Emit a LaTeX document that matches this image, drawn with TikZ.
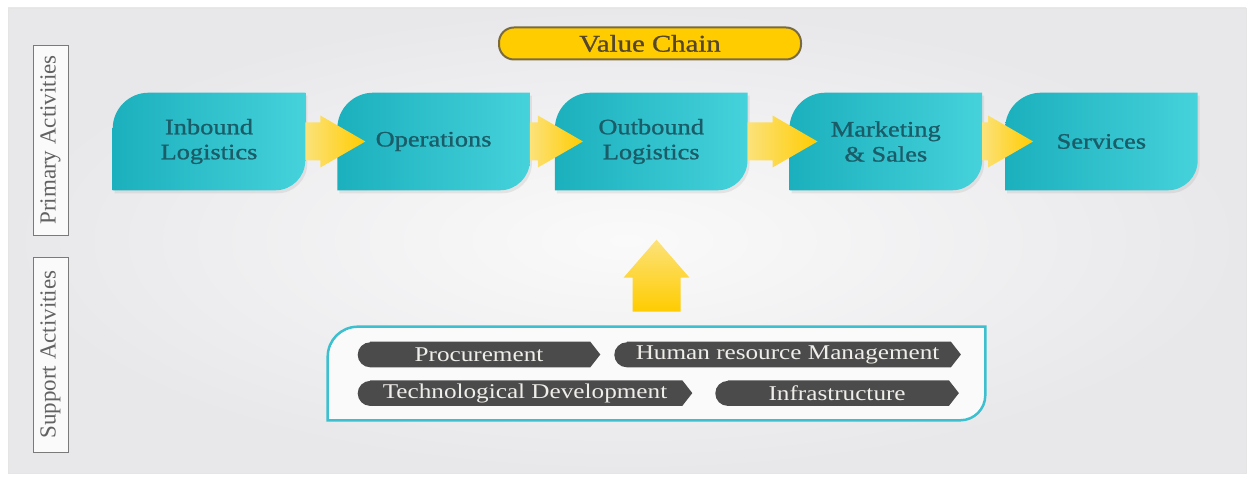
\documentclass[tikz,border=0pt]{standalone}
\usepackage{fontspec}
\setmainfont{Liberation Serif}
\newfontfamily\widefont[FakeStretch=1.2]{Liberation Serif}
\newfontfamily\widebold[FakeStretch=1.2,FakeBold=1]{Liberation Serif}
\usepackage{tikz}
\usetikzlibrary{positioning,shadows,backgrounds}

\definecolor{tealdark}{HTML}{1BB0BD}
\definecolor{teallight}{HTML}{45D2DB}
\definecolor{tealtext}{HTML}{1A5C68}
\definecolor{tealline}{HTML}{3CBFCE}
\definecolor{goldl}{HTML}{FCE27A}
\definecolor{gold}{HTML}{FFCC00}
\definecolor{pillgray}{HTML}{4B4B4B}
\definecolor{pilltext}{HTML}{F0EEEA}
\definecolor{vcline}{HTML}{7A6A40}
\definecolor{vctext}{HTML}{54472E}
\definecolor{sidegray}{HTML}{7A7A7A}
\definecolor{bgout}{HTML}{E8E8EB}
\definecolor{bgin}{HTML}{FAFAFA}

\begin{document}
\begin{tikzpicture}[x=1pt,y=1pt,semithick]
  \tikzstyle{act}=[minimum width=192pt,minimum height=97pt,inner sep=0pt,align=center,
                   text=tealtext,font=\widebold\fontsize{22}{25}\selectfont]
  \tikzstyle{actshape}=[left color=tealdark,right color=teallight,
                        drop shadow={shadow xshift=2pt,shadow yshift=-3pt,opacity=.15}]
  \tikzstyle{pill}=[minimum height=25pt,inner sep=0pt,text=pilltext,
                    font=\widefont\fontsize{21}{21}\selectfont]
  \tikzstyle{side}=[draw=sidegray,thin,rotate=90,minimum height=35pt,inner sep=0pt,
                    fill=bgin,text=sidegray!80!black,font=\fontsize{23}{23}\selectfont]
  \tikzstyle{yarrow}=[left color=goldl,right color=gold]
  \useasboundingbox (0,0) rectangle (1254,481);

  \node[draw=vcline,line width=2pt,rounded corners=15pt,minimum width=302pt,
        minimum height=32pt,left color=gold,middle color=goldl!50!gold,right color=gold,
        text=vctext,font=\widebold\fontsize{24}{24}\selectfont] (vc) at (650,437.5) {Value Chain};

  \node[side,minimum width=190pt] (pri) at (50.5,341)   {Primary Activities};
  \node[side,minimum width=195pt] (spt) at (50.5,126.5) {Support Activities};

  % primary activities
  \node[act] (inb)  at (209,339.5)         {Inbound\\Logistics};
  \node[act] (ops)  [right=32pt of inb]    {Operations};
  \node[act] (outb) [right=25pt of ops]    {Outbound\\Logistics};
  \node[act] (mkt)  [right=42pt of outb]   {Marketing\\\& Sales};
  \node[act] (srv)  [right=23pt of mkt]    {Services};

  % support activities
  \node[minimum width=657pt,minimum height=93pt] (sup) at (656.5,107.5) {};
  \node[pill,minimum width=242pt] (proc) at (479,126.5)  {Procurement};
  \node[pill,minimum width=346pt] (hrm)  [right=14pt of proc] {Human resource Management};
  \node[pill,minimum width=334pt,anchor=north west] (tech) at ([yshift=-13pt]proc.south west)
       {Technological Development};
  \node[pill,minimum width=243pt] (infra) [right=23pt of tech] {Infrastructure};

  \begin{scope}[on background layer]
    \shade[inner color=bgin,outer color=bgout,draw=gray!20] (8,8) rectangle (1246,473);
    \foreach \n in {inb,ops,outb,mkt,srv}
      \path[actshape] (\n.south west) -- ([yshift=-36pt]\n.north west)
            arc[start angle=180,end angle=90,radius=36pt] -- (\n.north east)
            -- ([yshift=30pt]\n.south east)
            arc[start angle=0,end angle=-90,radius=30pt] -- cycle;
    \draw[tealline,line width=2.5pt,fill=bgin] (sup.south west)
            -- ([yshift=-30pt]sup.north west)
            arc[start angle=180,end angle=90,radius=30pt] -- (sup.north east)
            -- ([yshift=25pt]sup.south east)
            arc[start angle=0,end angle=-90,radius=25pt] -- cycle;
    \foreach \n in {proc,hrm,tech,infra}
      \fill[pillgray] ([xshift=12.5pt]\n.north west) -- ([xshift=-10pt]\n.north east)
            -- (\n.east) -- ([xshift=-10pt]\n.south east) -- ([xshift=12.5pt]\n.south west)
            arc[start angle=270,end angle=90,radius=12.5pt] -- cycle;
  \end{scope}

  % yellow arrows
  \foreach \a/\b in {inb/ops,ops/outb,outb/mkt,mkt/srv}
    \path[yarrow] ([yshift=19pt]\a.east) -- ([xshift=-17pt,yshift=19pt]\b.west)
          -- ([xshift=-17pt,yshift=26pt]\b.west) -- ([xshift=28pt]\b.west)
          -- ([xshift=-17pt,yshift=-26pt]\b.west) -- ([xshift=-17pt,yshift=-19pt]\b.west)
          -- ([yshift=-19pt]\a.east) -- cycle;

  \coordinate (uptip) at ([yshift=87pt]sup.north);
  \path[top color=goldl,bottom color=gold] ([xshift=-24pt,yshift=15pt]sup.north)
        -- ([xshift=-24pt,yshift=49pt]sup.north) -- ([xshift=-33pt,yshift=49pt]sup.north)
        -- (uptip) -- ([xshift=33pt,yshift=49pt]sup.north)
        -- ([xshift=24pt,yshift=49pt]sup.north) -- ([xshift=24pt,yshift=15pt]sup.north) -- cycle;
\end{tikzpicture}
\end{document}
